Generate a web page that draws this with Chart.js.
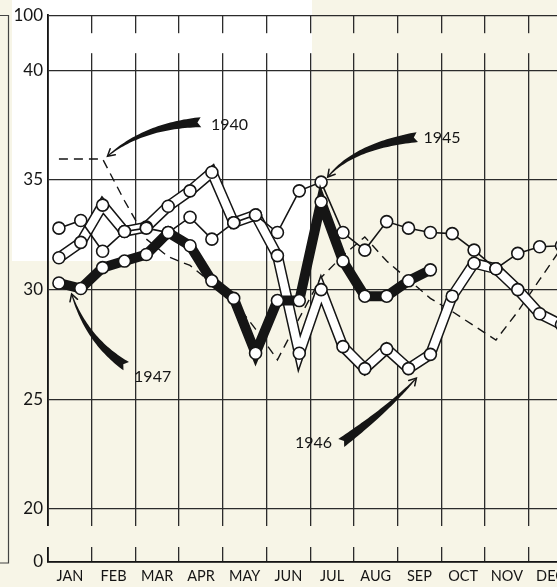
<!DOCTYPE html>
<html><head><meta charset="utf-8">
<script src="https://cdn.jsdelivr.net/npm/chart.js@4"></script>
<style>
html,body{margin:0;padding:0;overflow:hidden;background:#f7f5e7;}
canvas{display:block;}
</style></head>
<body>
<canvas id="c" width="580" height="587"></canvas>
<script>
// ---------- data (semi-monthly readings: first half / second half of each month) ----------
const months = ['JAN','FEB','MAR','APR','MAY','JUN','JUL','AUG','SEP','OCT','NOV','DEC'];
const y1940 = [35.95,35.95,35.95,34.05,32.3,31.5,31.1,30.3,29.5,28.2,26.8,28.7,
               30.55,31.55,32.4,31.3,30.45,29.6,29.0,28.35,27.7,29.0,30.45,31.9];
const y1945 = [32.8,33.15,31.75,32.65,32.8,32.6,33.3,32.3,33.05,33.4,32.6,34.5,
               34.9,32.6,31.8,33.1,32.8,32.6,32.55,31.8,30.95,31.65,31.95,32.0];
const y1946 = [31.45,32.15,33.85,32.65,32.85,33.8,34.5,35.35,33.05,33.4,31.55,27.1,
               30.0,27.4,26.4,27.3,26.4,27.05,29.7,31.2,30.95,30.0,28.9,28.4];
const y1947 = [30.3,30.05,31.0,31.3,31.6,32.6,32.0,30.4,29.6,27.1,29.5,29.5,
               34.0,31.3,29.7,29.7,30.4,30.9];
const yTickValues = [0,20,25,30,35,40,100];

// ---------- broken value axis: 0 | 20..40 | 100 ----------
const AXIS_ZERO = 17.585, AXIS_HUNDRED = 42.506;
function breakAxis(v){
  if (v >= 20 && v <= 40) return v;
  if (v < 20) return AXIS_ZERO + (v/20)*(20-AXIS_ZERO);
  return 40 + (v-40)/60*(AXIS_HUNDRED-40);
}
// position of each half-month reading on the month axis (mid-point of the half month)
const halfMonthPos = i => i/2 + 0.25;
const pts = arr => arr.map((v,i)=>({x: halfMonthPos(i), y: breakAxis(v)}));

const INK = '#151515';
const CREAM = '#f7f5e7';

// annotation labels with curved arrows (positions in axis units)
const notes = [
  {text:'1940', at:[3.73,37.49], tail:[3.50,37.63], ctrl:[2.19,37.47], head:[1.36,36.08], w:9},
  {text:'1945', at:[8.59,36.90], tail:[8.45,36.95], ctrl:[6.99,36.54], head:[6.40,35.13], w:9},
  {text:'1947', at:[1.97,26.01], tail:[1.79,26.51], ctrl:[0.89,27.68], head:[0.54,29.80], w:9},
  {text:'1946', at:[5.65,23.01], tail:[6.71,23.01], ctrl:[7.81,24.60], head:[8.43,25.97], w:9}
];

const bgPlugin = {
  id:'bg',
  beforeDraw(chart){
    const c = chart.ctx;
    c.save();
    c.fillStyle = CREAM; c.fillRect(0,0,chart.width,chart.height);
    c.fillStyle = '#ffffff'; c.fillRect(12,0,300,261);
    // fragment of neighbouring chart at the left edge
    c.strokeStyle = '#444'; c.lineWidth = 1.2;
    c.beginPath(); c.moveTo(0,15.5); c.lineTo(8.5,15.5); c.lineTo(8.5,563); c.lineTo(0,563); c.stroke();
    c.restore();
  }
};

const breakPlugin = {
  id:'breaks',
  beforeDatasetsDraw(chart){
    const c = chart.ctx, a = chart.chartArea, ys = chart.scales.y;
    const top1 = ys.getPixelForValue(AXIS_HUNDRED) + 18, top2 = ys.getPixelForValue(40) - 17;
    const bot1 = ys.getPixelForValue(20) + 17, bot2 = ys.getPixelForValue(AXIS_ZERO) - 15;
    c.save();
    // upper break (left axis stays continuous)
    c.fillStyle = '#ffffff'; c.fillRect(a.left+1.5, top1, 312-(a.left+1.5), top2-top1);
    c.fillStyle = CREAM; c.fillRect(312, top1, a.right+5-312, top2-top1);
    // lower break
    c.fillStyle = CREAM; c.fillRect(a.left-3, bot1, a.right-a.left+8, bot2-bot1);
    c.restore();
  }
};

function drawArrow(c, P0, C, P2, wmax){
  const N = 40, L = [], R = [];
  let t0x, t0y;
  for (let k=0;k<=N;k++){
    const t = k/N, u = 1-t;
    const x = u*u*P0[0] + 2*u*t*C[0] + t*t*P2[0];
    const y = u*u*P0[1] + 2*u*t*C[1] + t*t*P2[1];
    let dx = 2*u*(C[0]-P0[0]) + 2*t*(P2[0]-C[0]);
    let dy = 2*u*(C[1]-P0[1]) + 2*t*(P2[1]-C[1]);
    const len = Math.hypot(dx,dy)||1; dx/=len; dy/=len;
    if (k===0){ t0x=dx; t0y=dy; }
    const w = (wmax*Math.pow(u,1.1) + 1.0)/2;
    L.push([x - dy*w, y + dx*w]); R.push([x + dy*w, y - dx*w]);
  }
  c.beginPath();
  c.moveTo(L[0][0], L[0][1]);
  for (const p of L) c.lineTo(p[0],p[1]);
  for (let k=R.length-1;k>=0;k--) c.lineTo(R[k][0],R[k][1]);
  c.lineTo(P0[0] + t0x*3.5, P0[1] + t0y*3.5);
  c.closePath();
  c.fill();
  // arrow head
  let hx = P2[0]-C[0], hy = P2[1]-C[1];
  const hl = Math.hypot(hx,hy)||1; hx/=hl; hy/=hl;
  const a = Math.PI/6, s = 8;
  c.beginPath();
  c.moveTo(P2[0] - s*(hx*Math.cos(a) - hy*Math.sin(a)), P2[1] - s*(hy*Math.cos(a) + hx*Math.sin(a)));
  c.lineTo(P2[0], P2[1]);
  c.lineTo(P2[0] - s*(hx*Math.cos(-a) - hy*Math.sin(-a)), P2[1] - s*(hy*Math.cos(-a) + hx*Math.sin(-a)));
  c.stroke();
}

const notePlugin = {
  id:'notes',
  afterDatasetsDraw(chart){
    const c = chart.ctx, xs = chart.scales.x, ys = chart.scales.y;
    const P = p => [xs.getPixelForValue(p[0]), ys.getPixelForValue(p[1])];
    c.save();
    c.fillStyle = INK; c.strokeStyle = INK; c.lineWidth = 1.5; c.lineCap = 'round';
    c.font = '16px Lato, "DejaVu Sans", sans-serif';
    c.textAlign = 'left'; c.textBaseline = 'middle';
    for (const n of notes){
      drawArrow(c, P(n.tail), P(n.ctrl), P(n.head), n.w);
      const t = P(n.at);
      c.fillText(n.text, t[0], t[1]);
    }
    c.restore();
  }
};

const pointStyle = {pointRadius:6, pointBackgroundColor:'#ffffff', pointBorderColor:INK, pointBorderWidth:1.6};

new Chart(document.getElementById('c'), {
  type:'line',
  data:{
    datasets:[
      Object.assign({label:'1947', data:pts(y1947), borderColor:INK, borderWidth:10,
        borderJoinStyle:'miter', tension:0}, pointStyle),
      Object.assign({label:'1945', data:pts(y1945), borderColor:INK, borderWidth:1.6, tension:0}, pointStyle),
      Object.assign({label:'1946', data:pts(y1946), borderColor:'#ffffff', borderWidth:8,
        borderJoinStyle:'miter', tension:0}, pointStyle),
      {label:'1946 outline', data:pts(y1946), borderColor:INK, borderWidth:11, borderJoinStyle:'miter',
        pointRadius:0, tension:0},
      {label:'1940', data:pts(y1940), borderColor:INK, borderWidth:1.4, borderDash:[9,6],
        pointRadius:0, tension:0}
    ]
  },
  options:{
    responsive:false, animation:false, events:[],
    layout:{padding:{left:0,right:1,top:15,bottom:0}},
    plugins:{legend:{display:false}, tooltip:{enabled:false}, title:{display:false}},
    scales:{
      x:{type:'linear', min:0, max:12,
        afterBuildTicks(axis){ axis.ticks = Array.from({length:25},(_,k)=>({value:k/2})); },
        ticks:{autoSkip:false, maxRotation:0, minRotation:0, padding:6, color:INK,
          font:{family:'Lato', size:14.5},
          callback:(v)=> (Math.abs(v%1-0.5)<1e-6) ? months[Math.floor(v)] : ''},
        grid:{color:(ctx)=> (ctx.tick && Math.abs(ctx.tick.value%1)<1e-6) ? '#2b2b2b' : 'rgba(0,0,0,0)',
          lineWidth:1.3, drawTicks:false},
        border:{color:INK, width:1.8},
        afterFit(axis){ axis.height = 25; }
      },
      y:{type:'linear', min:AXIS_ZERO, max:AXIS_HUNDRED,
        afterBuildTicks(axis){ axis.ticks = yTickValues.map(v=>({value:breakAxis(v)})); },
        ticks:{autoSkip:false, padding:5, color:INK, font:{family:'Lato', size:17},
          callback:(v,i)=> String(yTickValues[i])},
        grid:{color:'#2b2b2b', lineWidth:1.3, drawTicks:false},
        border:{color:INK, width:1.8},
        afterFit(axis){ axis.width = 48; }
      }
    }
  },
  plugins:[bgPlugin, breakPlugin, notePlugin]
});
</script>
</body></html>
